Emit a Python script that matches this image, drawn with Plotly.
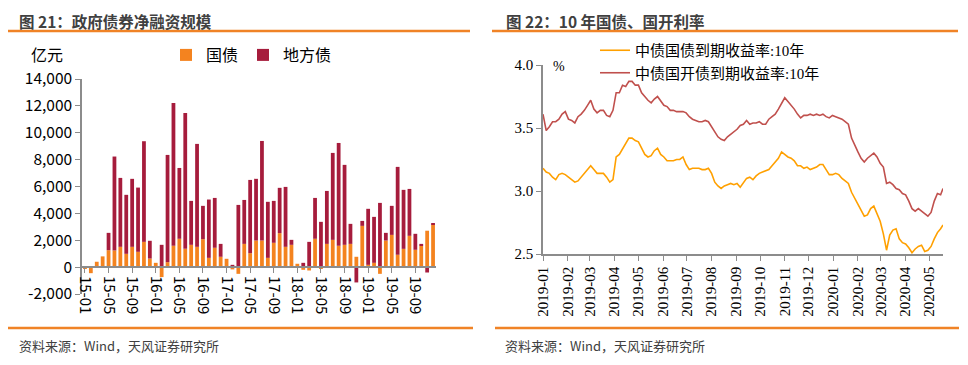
import plotly.graph_objects as go
import pandas as pd

# ---------------- Left chart data: monthly net financing (亿元) ----------------
months = ["15-01", "15-02", "15-03", "15-04", "15-05", "15-06", "15-07", "15-08", "15-09", "15-10", "15-11", "15-12",
          "16-01", "16-02", "16-03", "16-04", "16-05", "16-06", "16-07", "16-08", "16-09", "16-10", "16-11", "16-12",
          "17-01", "17-02", "17-03", "17-04", "17-05", "17-06", "17-07", "17-08", "17-09", "17-10", "17-11", "17-12",
          "18-01", "18-02", "18-03", "18-04", "18-05", "18-06", "18-07", "18-08", "18-09", "18-10", "18-11", "18-12",
          "19-01", "19-02", "19-03", "19-04", "19-05", "19-06", "19-07", "19-08", "19-09", "19-10", "19-11", "19-12"]

guozhai = [-100, -450, 400, 800, 1260, 1240, 1510, 990, 1510, 1140, 1880, 640,
           320, -740, 370, 1590, 2110, 1360, 1660, 1510, 2080, 690, 1440, 770,
           620, -170, -500, 1730, 1040, 1980, 1980, 690, 1810, 2530, 1510, 1660,
           250, -200, -250, 2110, -100, 1730, 2030, 1590, 1660, 1730, 770, 3070,
           170, 320, -500, 1980, 2400, 920, 1360, 2330, 1290, 1590, 2710, 3170]

difangzhai = [0, 0, 0, 0, 1290, 6990, 5130, 4390, 5060, 4780, 7490, 1320,
              0, 1660, 7980, 10630, 5270, 10110, 3270, 7660, 2480, 4340, 3710, 960,
              0, 170, 4630, 3270, 5450, 4590, 7410, 4170, 3120, 3370, 4460, 370,
              0, 320, 1880, 3040, 3370, 3940, 6470, 7650, 5950, 1490, -1140, 370,
              4170, 3420, 4780, 570, 2160, 6540, 4390, 3490, 1190, 140, -400, 100]

left_xticks = ["15-01", "15-05", "15-09", "16-01", "16-05", "16-09", "17-01", "17-05", "17-09",
               "18-01", "18-05", "18-09", "19-01", "19-05", "19-09"]
left_yticks = [-2000, 0, 2000, 4000, 6000, 8000, 10000, 12000, 14000]
left_yticktext = ["-2,000", "0", "2,000", "4,000", "6,000", "8,000", "10,000", "12,000", "14,000"]

# ---------------- Right chart data: 10Y yields (%) ----------------
yield_dates = list(pd.date_range("2019-01-01", periods=126, freq="4D")) + [pd.Timestamp("2020-05-18")]

cgb_10y = [3.18, 3.15, 3.14, 3.11, 3.09, 3.13, 3.14, 3.13, 3.11, 3.09,
           3.07, 3.08, 3.11, 3.14, 3.17, 3.20, 3.17, 3.14, 3.14, 3.14,
           3.11, 3.07, 3.09, 3.27, 3.29, 3.33, 3.37, 3.42, 3.42, 3.40,
           3.39, 3.34, 3.29, 3.27, 3.28, 3.32, 3.34, 3.29, 3.27, 3.24,
           3.24, 3.24, 3.25, 3.25, 3.27, 3.21, 3.17, 3.18, 3.18, 3.18,
           3.17, 3.17, 3.18, 3.14, 3.07, 3.04, 3.02, 3.04, 3.05, 3.06,
           3.05, 3.06, 3.03, 3.07, 3.10, 3.11, 3.09, 3.12, 3.14, 3.15,
           3.16, 3.17, 3.20, 3.23, 3.26, 3.31, 3.29, 3.27, 3.26, 3.24,
           3.20, 3.20, 3.18, 3.19, 3.17, 3.18, 3.19, 3.21, 3.21, 3.17,
           3.13, 3.13, 3.14, 3.13, 3.10, 3.08, 3.06, 2.99, 2.94, 2.89,
           2.84, 2.80, 2.81, 2.86, 2.88, 2.82, 2.76, 2.66, 2.53, 2.65,
           2.69, 2.70, 2.62, 2.59, 2.58, 2.55, 2.51, 2.54, 2.56, 2.57,
           2.52, 2.53, 2.56, 2.62, 2.67, 2.70, 2.73]

cdb_10y = [3.61, 3.48, 3.51, 3.55, 3.55, 3.57, 3.61, 3.63, 3.57, 3.56,
           3.54, 3.59, 3.61, 3.64, 3.68, 3.72, 3.65, 3.62, 3.64, 3.64,
           3.60, 3.59, 3.64, 3.78, 3.78, 3.84, 3.83, 3.87, 3.87, 3.84,
           3.84, 3.78, 3.75, 3.72, 3.70, 3.73, 3.75, 3.71, 3.68, 3.67,
           3.64, 3.64, 3.63, 3.63, 3.63, 3.62, 3.59, 3.57, 3.56, 3.55,
           3.55, 3.56, 3.55, 3.51, 3.47, 3.43, 3.41, 3.40, 3.43, 3.45,
           3.47, 3.49, 3.52, 3.53, 3.56, 3.53, 3.54, 3.54, 3.55, 3.53,
           3.53, 3.57, 3.59, 3.61, 3.65, 3.69, 3.74, 3.71, 3.68, 3.65,
           3.61, 3.58, 3.60, 3.60, 3.61, 3.60, 3.61, 3.60, 3.61, 3.59,
           3.58, 3.60, 3.59, 3.58, 3.57, 3.55, 3.53, 3.42, 3.36, 3.31,
           3.26, 3.23, 3.26, 3.28, 3.30, 3.27, 3.22, 3.19, 3.06, 3.07,
           3.05, 3.02, 3.01, 2.98, 2.97, 2.92, 2.86, 2.84, 2.86, 2.84,
           2.82, 2.80, 2.83, 2.92, 2.98, 2.97, 3.02]

right_yticks = [2.5, 3.0, 3.5, 4.0]

# ---------------- Styling ----------------
# The page body has an 8px default margin, so the figure is 952x349 and page
# pixel coordinates are converted to figure paper coordinates below.
OFF = 8
FW, FH = 968 - 2 * OFF, 365 - 2 * OFF
ORANGE = "#F4831F"
MAROON = "#A61C3C"
AXIS = "#8C8C8C"
SANS = "Noto Sans CJK SC"
SERIF = "Liberation Serif, Noto Sans CJK SC"


def px(x):
    return (x - OFF) / FW


def py(y):
    return 1 - (y - OFF) / FH


fig = go.Figure()

fig.add_trace(go.Bar(x=months, y=guozhai, name="国债", marker=dict(color=ORANGE, line=dict(width=0)),
                     xaxis="x", yaxis="y", legend="legend"))
fig.add_trace(go.Bar(x=months, y=difangzhai, name="地方债", marker=dict(color=MAROON, line=dict(width=0)),
                     xaxis="x", yaxis="y", legend="legend"))

fig.add_trace(go.Scatter(x=yield_dates, y=cgb_10y, mode="lines", name="中债国债到期收益率:10年",
                         line=dict(color="#FFA000", width=1.6), xaxis="x2", yaxis="y2", legend="legend2"))
fig.add_trace(go.Scatter(x=yield_dates, y=cdb_10y, mode="lines", name="中债国开债到期收益率:10年",
                         line=dict(color="#C0504D", width=1.6), xaxis="x2", yaxis="y2", legend="legend2"))

# plot area geometry (page pixels)
L_x0, L_x1, L_top, L_bot = 82, 436, 79, 294
R_x0, R_x1, R_top, R_bot = 543, 943, 65, 254
zero_y = L_bot - (L_bot - L_top) * (0 - (-2000)) / 16000.0

common_axis = dict(showline=True, linecolor=AXIS, linewidth=1.5, ticks="outside", ticklen=5,
                   tickcolor=AXIS, tickwidth=1.2, showgrid=False, zeroline=False, automargin=False)

fig.update_layout(
    template="none",
    width=FW, height=FH,
    margin=dict(l=0, r=0, t=0, b=0, autoexpand=False),
    paper_bgcolor="white", plot_bgcolor="white",
    barmode="relative", bargap=0.36,
    font=dict(family=SANS, size=15, color="#000000"),
    xaxis=dict(domain=[px(L_x0), px(L_x1)], type="category", anchor="free", position=py(zero_y),
               tickmode="array", tickvals=left_xticks, ticktext=left_xticks, tickangle=90,
               tickfont=dict(family=SANS, size=15, color="#000000"), **common_axis),
    yaxis=dict(domain=[py(L_bot), py(L_top)], range=[-2000, 14000], anchor="x",
               tickmode="array", tickvals=left_yticks, ticktext=left_yticktext,
               tickfont=dict(family=SANS, size=15.5, color="#000000"), **common_axis),
    xaxis2=dict(domain=[px(R_x0), px(R_x1)], type="date", anchor="y2",
                range=["2019-01-01", "2020-05-18"], dtick="M1", tick0="2019-01-01",
                tickformat="%Y-%m", tickangle=-90,
                tickfont=dict(family=SERIF, size=15, color="#000000"), **common_axis),
    yaxis2=dict(domain=[py(R_bot), py(R_top)], range=[2.5, 4.0], anchor="x2",
                tickmode="array", tickvals=right_yticks, tickformat=".1f",
                tickfont=dict(family=SERIF, size=15, color="#000000"), **common_axis),
    legend=dict(orientation="h", x=px(166), y=py(55), xanchor="left", yanchor="middle",
                font=dict(family=SANS, size=16, color="#000000"), bgcolor="rgba(0,0,0,0)",
                itemwidth=30, traceorder="normal", borderwidth=0),
    legend2=dict(orientation="v", x=px(595), y=py(34), xanchor="left", yanchor="top",
                 font=dict(family=SERIF, size=15, color="#000000"), bgcolor="rgba(0,0,0,0)",
                 tracegroupgap=0, borderwidth=0),
    showlegend=True,
)

annotations = [
    dict(text="<b>图 21：政府债券净融资规模</b>", x=px(17), y=py(8), xanchor="left", yanchor="top",
         font=dict(family=SANS, size=15.5, color="#404040")),
    dict(text="<b>图 22：10 年国债、国开利率</b>", x=px(504), y=py(8), xanchor="left", yanchor="top",
         font=dict(family=SANS, size=15.5, color="#404040")),
    dict(text="亿元", x=px(47), y=py(54), xanchor="center", yanchor="middle",
         font=dict(family=SANS, size=16, color="#000000")),
    dict(text="%", x=px(551), y=py(66), xanchor="left", yanchor="middle",
         font=dict(family=SERIF, size=14, color="#000000")),
    dict(text="资料来源：Wind，天风证券研究所", x=px(17), y=py(345), xanchor="left", yanchor="middle",
         font=dict(family=SANS, size=13, color="#404040")),
    dict(text="资料来源：Wind，天风证券研究所", x=px(503), y=py(345), xanchor="left", yanchor="middle",
         font=dict(family=SANS, size=13, color="#404040")),
]
for a in annotations:
    a.update(xref="paper", yref="paper", showarrow=False)
fig.update_layout(annotations=annotations)

rules = [(8, 470, 31), (492, 958, 31), (8, 473, 328), (495, 959, 328)]
fig.update_layout(shapes=[dict(type="line", xref="paper", yref="paper", x0=px(a), x1=px(b), y0=py(y), y1=py(y),
                               line=dict(color="#F08326", width=2.5)) for a, b, y in rules])

fig.write_html("out.html")
